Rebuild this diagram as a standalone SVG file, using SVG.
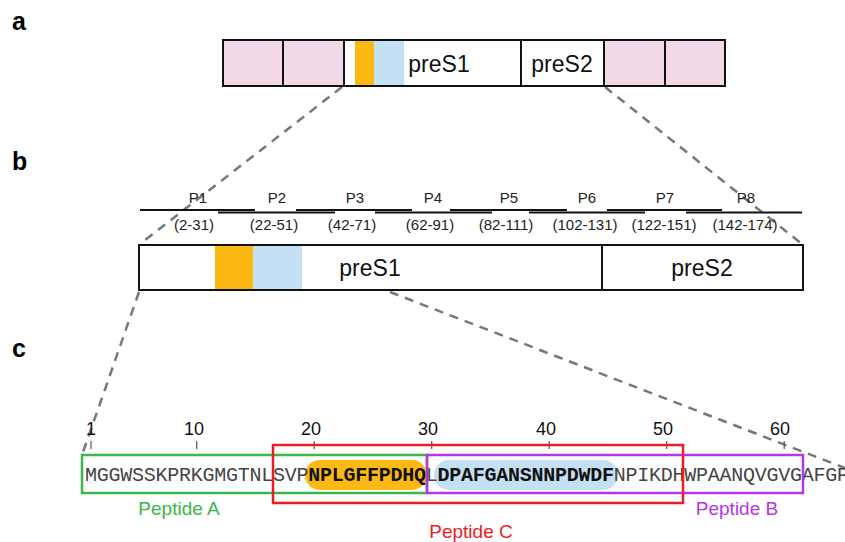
<svg xmlns="http://www.w3.org/2000/svg" width="845" height="542" viewBox="0 0 845 542">
<style>
.box{fill:none;stroke:#111;stroke-width:2}
.pink{fill:#f3d8e8}
.org{fill:#fdb913}
.blu{fill:#c4e0f4}
.lbl{font-family:"Liberation Sans",Arial,sans-serif;fill:#111}
.big{font-size:23px;text-anchor:middle}
.pl{font-size:15px;text-anchor:middle;fill:#222}
.seg{stroke:#111;stroke-width:2}
.dash{stroke:#777;stroke-width:2.5;stroke-dasharray:9 7;fill:none}
.seq{font-family:"Liberation Mono","Courier New",monospace;font-size:20px;letter-spacing:-0.25px;fill:#444}
.b{font-weight:bold;fill:#111}
.num{font-family:"Liberation Sans",Arial,sans-serif;font-size:18px;text-anchor:middle;fill:#111}
.tick{stroke:#555;stroke-width:1.2}
.pep{font-family:"Liberation Sans",Arial,sans-serif;font-size:19px;text-anchor:middle}
.panel{font-family:"Liberation Sans",Arial,sans-serif;font-size:25px;font-weight:bold;fill:#000}
</style>
<rect width="845" height="542" fill="#fff"/>

<g id="panel-labels">
<text class="panel" x="12" y="30">a</text>
<text class="panel" x="12" y="170">b</text>
<text class="panel" x="12" y="357">c</text>
</g>

<g id="connectors">
<line class="dash" x1="342" y1="87" x2="140" y2="244"/>
<line class="dash" x1="605" y1="87" x2="802" y2="244"/>
<line class="dash" x1="139" y1="292" x2="82" y2="455"/>
<line class="dash" x1="390" y1="292" x2="845" y2="468"/>
</g>

<g id="node-a">
<rect class="pink" x="223" y="40" width="121" height="46"/>
<rect class="pink" x="604" y="40" width="121" height="46"/>
<rect class="org" x="355" y="40" width="19" height="46"/>
<rect class="blu" x="374" y="40" width="30" height="46"/>
<rect class="box" x="223" y="40" width="502" height="46"/>
<line class="seg" x1="283" y1="40" x2="283" y2="86"/>
<line class="seg" x1="344" y1="40" x2="344" y2="86"/>
<line class="seg" x1="521" y1="40" x2="521" y2="86"/>
<line class="seg" x1="604" y1="40" x2="604" y2="86"/>
<line class="seg" x1="665" y1="40" x2="665" y2="86"/>
<text class="lbl big" x="439" y="72">preS1</text>
<text class="lbl big" x="562" y="72">preS2</text>
</g>

<g id="node-peptides">
<line class="seg" x1="140" y1="210" x2="255" y2="210"/>
<line class="seg" x1="218" y1="212.5" x2="335" y2="212.5"/>
<line class="seg" x1="296" y1="210" x2="412" y2="210"/>
<line class="seg" x1="375" y1="212.5" x2="492" y2="212.5"/>
<line class="seg" x1="450" y1="210" x2="567" y2="210"/>
<line class="seg" x1="529" y1="212.5" x2="645" y2="212.5"/>
<line class="seg" x1="607" y1="210" x2="722" y2="210"/>
<line class="seg" x1="686" y1="212.5" x2="802" y2="212.5"/>
<text class="lbl pl" x="198" y="203">P1</text>
<text class="lbl pl" x="277" y="203">P2</text>
<text class="lbl pl" x="355" y="203">P3</text>
<text class="lbl pl" x="433" y="203">P4</text>
<text class="lbl pl" x="509" y="203">P5</text>
<text class="lbl pl" x="587" y="203">P6</text>
<text class="lbl pl" x="665" y="203">P7</text>
<text class="lbl pl" x="746" y="203">P8</text>
<text class="lbl pl" x="194" y="230">(2-31)</text>
<text class="lbl pl" x="274" y="230">(22-51)</text>
<text class="lbl pl" x="352" y="230">(42-71)</text>
<text class="lbl pl" x="430" y="230">(62-91)</text>
<text class="lbl pl" x="506" y="230">(82-111)</text>
<text class="lbl pl" x="585" y="230">(102-131)</text>
<text class="lbl pl" x="664" y="230">(122-151)</text>
<text class="lbl pl" x="745" y="230">(142-174)</text>
</g>

<g id="node-b">
<rect class="org" x="215" y="245" width="38" height="45"/>
<rect class="blu" x="253" y="245" width="49" height="45"/>
<rect class="box" x="139" y="245" width="664" height="45"/>
<line class="seg" x1="602" y1="245" x2="602" y2="290"/>
<text class="lbl big" x="370" y="276">preS1</text>
<text class="lbl big" x="702" y="276">preS2</text>
</g>

<g id="node-c-scale">
<line class="tick" x1="91" y1="441" x2="91" y2="449"/>
<line class="tick" x1="196.7" y1="441" x2="196.7" y2="449"/>
<line class="tick" x1="314.2" y1="441" x2="314.2" y2="449"/>
<line class="tick" x1="431.7" y1="441" x2="431.7" y2="449"/>
<line class="tick" x1="549.2" y1="441" x2="549.2" y2="449"/>
<line class="tick" x1="666.7" y1="441" x2="666.7" y2="449"/>
<line class="tick" x1="784.2" y1="441" x2="784.2" y2="449"/>
<text class="num" x="91" y="435">1</text>
<text class="num" x="194" y="435">10</text>
<text class="num" x="311" y="435">20</text>
<text class="num" x="428" y="435">30</text>
<text class="num" x="546" y="435">40</text>
<text class="num" x="663" y="435">50</text>
<text class="num" x="780" y="435">60</text>
</g>

<g id="node-c-sequence">
<rect class="org" x="305" y="460" width="122" height="30" rx="15"/>
<rect class="blu" x="434" y="460" width="184" height="30" rx="15"/>
<text class="seq" y="481"><tspan x="85">MGGWSSKPRKGMGTNLSVP</tspan><tspan class="b" x="308.25">NPLGFFPDHQ</tspan><tspan x="425.75">L</tspan><tspan class="b" x="437.5">DPAFGANSNNPDWDF</tspan><tspan x="613.75">NPIKDHWPAANQVGVGAFGP</tspan></text>
</g>

<g id="node-peptide-a">
<rect x="82" y="455" width="345" height="38" fill="none" stroke="#3cb54a" stroke-width="2.5"/>
<text class="pep" x="179" y="515" fill="#3cb54a">Peptide A</text>
</g>

<g id="node-peptide-b">
<rect x="427" y="455" width="376" height="38" fill="none" stroke="#b536e3" stroke-width="2.5"/>
<text class="pep" x="737" y="515" fill="#b536e3">Peptide B</text>
</g>

<g id="node-peptide-c">
<rect x="273" y="445" width="410" height="58" fill="none" stroke="#ec1c24" stroke-width="2.5"/>
<text class="pep" x="471" y="538" fill="#ec1c24">Peptide C</text>
</g>
</svg>
